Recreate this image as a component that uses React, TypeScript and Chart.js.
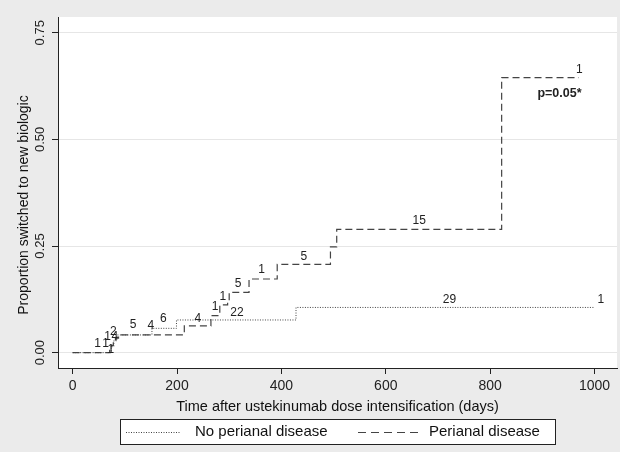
import React, { useEffect, useRef } from "react";
import { Chart, registerables } from "chart.js";

Chart.register(...registerables);

// ---- data ----
const noPerianalDays = [0, 74, 79, 85, 152, 199, 428, 1000];
const noPerianalValues = [0, 0.014, 0.028, 0.0415, 0.057, 0.0766, 0.106, 0.106];

const perianalDays = [0, 71, 74, 78, 82, 88, 214, 265, 282, 297, 300, 338, 392, 494, 506, 822, 970];
const perianalValues = [0, 0.0085, 0.017, 0.026, 0.034, 0.0415, 0.0626, 0.087, 0.112, 0.119, 0.1415, 0.1727, 0.207, 0.248, 0.289, 0.645, 0.645];

// number labels drawn on the curves
const labelTexts = ["1", "1", "1", "1", "2", "4", "5", "4", "6", "4", "1", "22", "1", "5", "1", "5", "15", "29", "1", "1"];
const labelDays = [48, 63, 73, 67, 78, 81, 116, 150, 174, 240, 273, 315, 288, 317, 362, 443, 664, 722, 1012, 971];
const labelProps = [0.022, 0.022, 0.008, 0.0375, 0.049, 0.0375, 0.0647, 0.0626, 0.079, 0.079, 0.1076, 0.0945, 0.131, 0.161, 0.194, 0.225, 0.309, 0.1235, 0.1235, 0.6625];

const pValueText = "p=0.05*";
const pValueDay = 975;
const pValueProp = 0.608;

const xTicks = [0, 200, 400, 600, 800, 1000];
const yTicks = [0, 0.25, 0.5, 0.75];

const seriesNames = ["No perianal disease", "Perianal disease"];
const xTitle = "Time after ustekinumab dose intensification (days)";
const yTitle = "Proportion switched to new biologic";

const FONT = "'Liberation Sans', Arial, Helvetica, sans-serif";

const toPoints = (xs: number[], ys: number[]) => xs.map((x, i) => ({ x, y: ys[i] }));

const bgPlugin = {
  id: "bgPlugin",
  beforeDraw(chart: any) {
    const { ctx, chartArea, width, height } = chart;
    ctx.save();
    ctx.fillStyle = "#ebebeb";
    ctx.fillRect(0, 0, width, height);
    ctx.fillStyle = "#ffffff";
    ctx.fillRect(chartArea.left, chartArea.top, chartArea.right - chartArea.left, chartArea.bottom - chartArea.top);
    ctx.restore();
  },
};

const labelPlugin = {
  id: "labelPlugin",
  afterDatasetsDraw(chart: any) {
    const { ctx, scales } = chart;
    const xs = scales.x;
    const ys = scales.y;
    ctx.save();
    ctx.fillStyle = "#222";
    ctx.font = `12px ${FONT}`;
    ctx.textAlign = "center";
    ctx.textBaseline = "middle";
    labelTexts.forEach((t, i) => {
      ctx.fillText(t, xs.getPixelForValue(labelDays[i]), ys.getPixelForValue(labelProps[i]));
    });
    ctx.font = `bold 12.5px ${FONT}`;
    ctx.textAlign = "right";
    ctx.fillText(pValueText, xs.getPixelForValue(pValueDay), ys.getPixelForValue(pValueProp));
    ctx.restore();
  },
};

const yTitlePlugin = {
  id: "yTitlePlugin",
  afterDraw(chart: any) {
    const { ctx } = chart;
    ctx.save();
    ctx.translate(24, 205);
    ctx.rotate(-Math.PI / 2);
    ctx.fillStyle = "#111";
    ctx.font = `14px ${FONT}`;
    ctx.textAlign = "center";
    ctx.textBaseline = "middle";
    ctx.fillText(yTitle, 0, 0);
    ctx.restore();
  },
};

const legendPlugin = {
  id: "legendPlugin",
  afterDraw(chart: any) {
    const { ctx } = chart;
    ctx.save();
    const bx = 120.5, by = 419.5, bw = 435, bh = 25;
    ctx.fillStyle = "#ffffff";
    ctx.fillRect(bx, by, bw, bh);
    ctx.strokeStyle = "#222";
    ctx.lineWidth = 1;
    ctx.strokeRect(bx, by, bw, bh);
    const cy = by + bh / 2;
    const ds = chart.data.datasets;
    const samples = [
      { x0: 126, x1: 181, tx: 195 },
      { x0: 358, x1: 423, tx: 429 },
    ];
    samples.forEach((s, i) => {
      ctx.beginPath();
      ctx.setLineDash(i === 0 ? [1, 1.5] : [8, 5]);
      ctx.strokeStyle = ds[i].borderColor;
      ctx.lineWidth = 1;
      ctx.moveTo(s.x0, Math.round(cy) + 0.5);
      ctx.lineTo(s.x1, Math.round(cy) + 0.5);
      ctx.stroke();
      ctx.setLineDash([]);
      ctx.fillStyle = "#111";
      ctx.font = `15px ${FONT}`;
      ctx.textAlign = "left";
      ctx.textBaseline = "middle";
      ctx.fillText(ds[i].label, s.tx, cy);
    });
    ctx.restore();
  },
};

export default function App() {
  const ref = useRef<HTMLCanvasElement | null>(null);

  useEffect(() => {
    if (!ref.current) return;
    const chart = new Chart(ref.current, {
      type: "line",
      data: {
        datasets: [
          {
            label: seriesNames[0],
            data: toPoints(noPerianalDays, noPerianalValues),
            stepped: true,
            borderColor: "#444",
            borderWidth: 1,
            borderDash: [1, 1.5],
            pointRadius: 0,
            fill: false,
          },
          {
            label: seriesNames[1],
            data: toPoints(perianalDays, perianalValues),
            stepped: true,
            borderColor: "#444",
            borderWidth: 1.2,
            borderDash: [7, 4],
            pointRadius: 0,
            fill: false,
          },
        ],
      },
      options: {
        animation: false,
        responsive: false,
        layout: { padding: { left: 0, right: 3, top: 17, bottom: 34 } },
        plugins: { legend: { display: false }, tooltip: { enabled: false } },
        scales: {
          x: {
            type: "linear",
            min: -28,
            max: 1043,
            afterFit: (s: any) => { s.height = 50; },
            afterBuildTicks: (s: any) => { s.ticks = xTicks.map((v) => ({ value: v })); },
            ticks: {
              includeBounds: false,
              color: "#222",
              font: { family: FONT, size: 14 },
              padding: 4,
              maxRotation: 0,
              callback: (v: any) => String(v),
            },
            grid: { drawOnChartArea: false, drawTicks: true, tickLength: 6, tickColor: "#222" },
            border: { display: true, color: "#222", width: 1 },
            title: {
              display: true,
              text: xTitle,
              color: "#111",
              font: { family: FONT, size: 14.5 },
              padding: { top: 0, bottom: 2.5 },
            },
          },
          y: {
            type: "linear",
            min: -0.036,
            max: 0.787,
            afterFit: (s: any) => { s.width = 58; },
            afterBuildTicks: (s: any) => { s.ticks = yTicks.map((v) => ({ value: v })); },
            ticks: {
              includeBounds: false,
              color: "#222",
              font: { family: FONT, size: 13 },
              padding: -1,
              minRotation: 90,
              maxRotation: 90,
              crossAlign: "center",
              callback: (v: any) => Number(v).toFixed(2),
            },
            grid: { color: "#e6e6e6", lineWidth: 1, drawTicks: true, tickLength: 6, tickColor: "#222" },
            border: { display: true, color: "#222", width: 1 },
            title: { display: false },
          },
        },
      },
      plugins: [bgPlugin, labelPlugin, yTitlePlugin, legendPlugin],
    });
    return () => chart.destroy();
  }, []);

  return (
    <div style={{ position: "absolute", left: 0, top: 0, width: 620, height: 452 }}>
      <canvas ref={ref} width={620} height={452} style={{ display: "block" }} />
    </div>
  );
}
